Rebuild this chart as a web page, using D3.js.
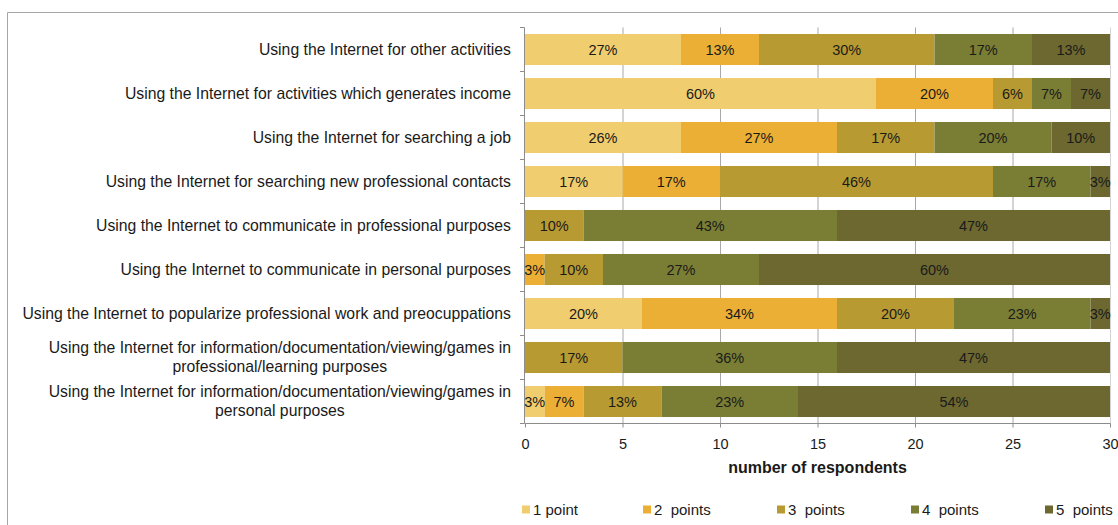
<!DOCTYPE html>
<html>
<head>
<meta charset="utf-8">
<script src="https://cdn.jsdelivr.net/npm/d3@7"></script>
<style>
  html, body { margin: 0; padding: 0; background: #fff; }
  svg { display: block; font-family: "Liberation Sans", Arial, sans-serif; }
</style>
</head>
<body>
<svg id="chart" width="1118" height="525"></svg>
<script>
// Activity categories, top to bottom; "\n" marks a line break in the label
const categories = [
  "Using the Internet for other activities",
  "Using the Internet for activities which generates income",
  "Using the Internet for searching a job",
  "Using the Internet for searching new professional contacts",
  "Using the Internet to communicate in professional purposes",
  "Using the Internet to communicate in personal purposes",
  "Using the Internet to popularize professional work and preocuppations",
  "Using the Internet for information/documentation/viewing/games in\nprofessional/learning purposes",
  "Using the Internet for information/documentation/viewing/games in\npersonal purposes"
];

const seriesNames = ["1 point", "2  points", "3  points", "4  points", "5  points"];

// Number of respondents per score (1..5 points) for each category
const onePoint    = [8, 18, 8, 5, 0, 0, 6, 0, 1];
const twoPoints   = [4, 6, 8, 5, 0, 1, 10, 0, 2];
const threePoints = [9, 2, 5, 14, 3, 3, 6, 5, 4];
const fourPoints  = [5, 2, 6, 5, 13, 8, 7, 11, 7];
const fivePoints  = [4, 2, 3, 1, 14, 18, 1, 14, 16];

// Share labels printed inside the segments (as reported)
const onePointPct    = ["27%", "60%", "26%", "17%", "", "", "20%", "", "3%"];
const twoPointsPct   = ["13%", "20%", "27%", "17%", "", "3%", "34%", "", "7%"];
const threePointsPct = ["30%", "6%", "17%", "46%", "10%", "10%", "20%", "17%", "13%"];
const fourPointsPct  = ["17%", "7%", "20%", "17%", "43%", "27%", "23%", "36%", "23%"];
const fivePointsPct  = ["13%", "7%", "10%", "3%", "47%", "60%", "3%", "47%", "54%"];

const xTicks = [0, 5, 10, 15, 20, 25, 30];

const colors = ["#F0CD6E", "#EBAF35", "#B89A32", "#7A7E34", "#6C6830"];

const values = [onePoint, twoPoints, threePoints, fourPoints, fivePoints];
const labels = [onePointPct, twoPointsPct, threePointsPct, fourPointsPct, fivePointsPct];

const rows = categories.map((c, i) => {
  const r = { category: c };
  seriesNames.forEach((s, k) => { r[s] = values[k][i]; });
  return r;
});

const svg = d3.select("#chart");

// Outer frame (top and left edges)
svg.append("path")
  .attr("d", "M7.5,525 V12.5 H1118")
  .attr("fill", "none")
  .attr("stroke", "#a6a6a6")
  .attr("stroke-width", 1);

const plotTop = 27.5, plotBottom = 423.5;
const x = d3.scaleLinear().domain([0, 30]).range([525, 1110]);
const y = d3.scaleBand().domain(categories).range([plotTop, plotBottom]).paddingInner(0.295).paddingOuter(0.1475);

// Vertical gridlines
svg.append("g")
  .selectAll("line")
  .data(xTicks.filter(t => t > 0))
  .join("line")
  .attr("x1", d => x(d) + 0.5).attr("x2", d => x(d) + 0.5)
  .attr("y1", plotTop).attr("y2", plotBottom)
  .attr("stroke", d => d === 30 ? "#d4d4d4" : "#a8a8a8")
  .attr("stroke-width", 1);

// Stacked bars
const stack = d3.stack().keys(seriesNames);
const stacked = stack(rows);

const layers = svg.append("g")
  .selectAll("g")
  .data(stacked)
  .join("g")
  .attr("fill", (d, k) => colors[k]);

layers.selectAll("rect")
  .data(d => d)
  .join("rect")
  .attr("x", d => x(d[0]))
  .attr("y", d => y(d.data.category))
  .attr("width", d => x(d[1]) - x(d[0]))
  .attr("height", y.bandwidth());

// Percentage labels inside segments
stacked.forEach((layer, k) => {
  svg.append("g")
    .selectAll("text")
    .data(layer.map((d, i) => ({ d, label: labels[k][i] })).filter(o => o.d[1] > o.d[0]))
    .join("text")
    .attr("x", o => (x(o.d[0]) + x(o.d[1])) / 2)
    .attr("y", o => y(o.d.data.category) + y.bandwidth() / 2)
    .attr("dy", "0.36em")
    .attr("text-anchor", "middle")
    .attr("font-size", 14.5)
    .attr("fill", "#1a1a1a")
    .text(o => o.label);
});

// Y axis line
svg.append("line")
  .attr("x1", 524.5).attr("x2", 524.5)
  .attr("y1", plotTop).attr("y2", plotBottom)
  .attr("stroke", "#8c8c8c");

// Tick marks at band boundaries
const bounds = d3.range(categories.length + 1).map(i => plotTop + i * y.step());
svg.append("g")
  .selectAll("line")
  .data(bounds)
  .join("line")
  .attr("x1", 520).attr("x2", 524.5)
  .attr("y1", d => Math.round(d - 0.5) + 0.5).attr("y2", d => Math.round(d - 0.5) + 0.5)
  .attr("stroke", "#8c8c8c");

// Category labels: single lines right-aligned, wrapped labels centred as a block
const catLabels = svg.append("g").attr("font-size", 15.75).attr("fill", "#1a1a1a");
categories.forEach(c => {
  const lines = c.split("\n");
  const cy = y(c) + y.bandwidth() / 2;
  const g = catLabels.append("g");
  const texts = lines.map((ln, j) => g.append("text")
    .attr("y", cy + (j - (lines.length - 1) / 2) * 19)
    .attr("dy", "0.33em")
    .text(ln));
  const widths = texts.map(t => t.node().getComputedTextLength());
  const maxW = d3.max(widths);
  const right = 511;
  if (lines.length === 1) {
    texts[0].attr("x", right).attr("text-anchor", "end");
  } else {
    texts.forEach(t => t.attr("x", right - maxW / 2).attr("text-anchor", "middle"));
  }
});

// X axis
const xAxis = svg.append("g")
  .attr("transform", `translate(0,${plotBottom})`)
  .call(d3.axisBottom(x).tickValues(xTicks).tickSize(4).tickPadding(11).tickFormat(d3.format("d")));
xAxis.select(".domain").attr("stroke", "#8c8c8c").attr("d", "M524.5,0H1110.5");
xAxis.selectAll(".tick line").attr("stroke", "#8c8c8c");
xAxis.selectAll(".tick text")
  .attr("font-family", "Liberation Sans, Arial, sans-serif")
  .attr("font-size", 14.5)
  .attr("fill", "#1a1a1a");

svg.append("text")
  .attr("x", (x(0) + x(30)) / 2)
  .attr("y", 467)
  .attr("dy", "0.36em")
  .attr("text-anchor", "middle")
  .attr("font-size", 16)
  .attr("font-weight", "bold")
  .attr("fill", "#1a1a1a")
  .text("number of respondents");

// Legend
const legendX = [522, 643, 777, 911, 1045];
const legend = svg.append("g")
  .selectAll("g")
  .data(seriesNames)
  .join("g")
  .attr("transform", (d, k) => `translate(${legendX[k]},510)`);
legend.append("rect")
  .attr("x", 0).attr("y", -4.5)
  .attr("width", 8).attr("height", 8)
  .attr("fill", (d, k) => colors[k]);
legend.append("text")
  .attr("x", 11)
  .attr("dy", "0.36em")
  .attr("font-size", 15)
  .attr("fill", "#1a1a1a")
  .attr("xml:space", "preserve")
  .style("white-space", "pre")
  .text(d => d);
</script>
</body>
</html>
